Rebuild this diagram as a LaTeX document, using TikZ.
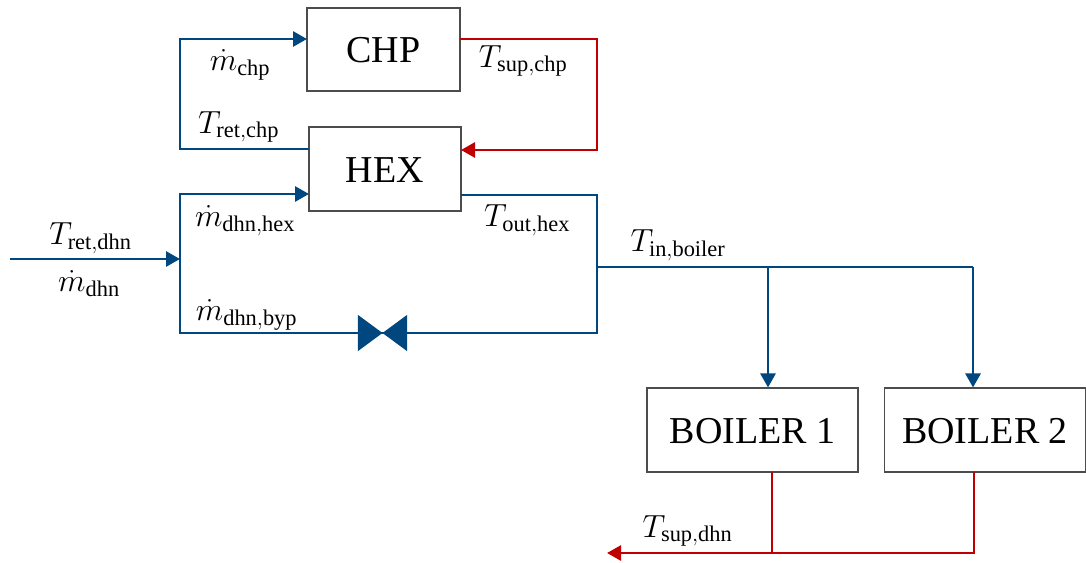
\documentclass[tikz,border=0pt]{standalone}
\usepackage{fix-cm}
\usepackage{fontspec}
\setmainfont{Liberation Serif}
\usetikzlibrary{arrows.meta}
\definecolor{pipeblue}{RGB}{0,70,127}
\definecolor{pipered}{RGB}{192,0,0}
\tikzset{
  unitbox/.style={draw=black!70, line width=1.1pt, fill=white, inner sep=0pt, text height=26.5pt, text depth=0pt, font=\fontsize{38}{40}\selectfont},
  coldline/.style={draw=pipeblue, line width=2.8pt, line join=miter},
  hotline/.style={draw=pipered, line width=2.8pt, line join=miter},
  tip/.style={-{Triangle[length=14pt,width=15pt]}},
  quantity/.style={inner sep=0pt, font=\fontsize{32}{36}\selectfont},
}
\begin{document}
\begin{tikzpicture}[x=1pt,y=-1pt]
  \useasboundingbox (0,0) rectangle (1086,562);
  % units
  \node[unitbox, minimum width=153pt, minimum height=83pt] (chp) at (383.5,49.5) {CHP};
  \node[unitbox, minimum width=152pt, minimum height=84pt] (hex) at (385,169) {HEX};
  \node[unitbox, minimum width=211pt, minimum height=84pt] (boilerA) at (752.5,430) {BOILER 1};
  \node[unitbox, minimum width=201pt, minimum height=84pt] (boilerB) at (985,430) {BOILER 2};
  % bypass valve, two triangles meeting at the middle
  \node[inner sep=0pt, minimum width=49pt, minimum height=36pt] (valve) at (382.5,333) {};
  \fill[pipeblue] (valve.north west) -- (valve.south east) -- (valve.north east) -- (valve.south west) -- cycle;
  % junctions
  \coordinate (inlet) at (10,259);
  \coordinate (split) at (180,259);
  \coordinate (chpin) at (307,39);
  \coordinate (chpout) at (460,39);
  \coordinate (hexhot) at (461,150);
  \coordinate (hexret) at (309,149);
  \coordinate (hexin) at (309,194);
  \coordinate (hexout) at (461,195);
  \coordinate (mixer) at (597,267);
  \coordinate (teeA) at (768,267);
  \coordinate (teeB) at (973,267);
  \coordinate (outlet) at (607,553);
  \coordinate (botA) at (772,472);
  \coordinate (botB) at (974,472);
  % district heating side
  \draw[coldline, tip] (inlet) -- (split);
  \draw[coldline, tip] (hexret) -- (180,149) -- (180,39) -- (chpin);
  \draw[coldline, tip] (split) -- (180,194) -- (hexin);
  \draw[coldline] (split) -- (180,333) -- (valve.center);
  \draw[coldline] (hexout) -- (597,195) -- (597,333) -- (valve.center);
  \draw[coldline] (mixer) -- (teeB);
  \draw[coldline, tip] (teeA) -- (teeA |- boilerA.north);
  \draw[coldline, tip] (teeB) -- (teeB |- boilerB.north);
  % hot side
  \draw[hotline, tip] (chpout) -- (597,39) -- (597,150) -- (hexhot);
  \draw[hotline] (botA) -- (botA |- outlet);
  \draw[hotline, tip] (botB) -- (botB |- outlet) -- (outlet);
  % labels
  \node[quantity] (mchp) at (240,65) {$\dot m_{\mathrm{chp}}$};
  \node[quantity] (tsupchp) at (523,61) {$T_{\mathrm{sup,chp}}$};
  \node[quantity] (tretchp) at (238.5,127) {$T_{\mathrm{ret,chp}}$};
  \node[quantity] (tretdhn) at (90.5,238) {$T_{\mathrm{ret,dhn}}$};
  \node[quantity] (mdhn) at (89,284) {$\dot m_{\mathrm{dhn}}$};
  \node[quantity] (mhex) at (245,221) {$\dot m_{\mathrm{dhn,hex}}$};
  \node[quantity] (touthex) at (527,220) {$T_{\mathrm{out,hex}}$};
  \node[quantity] (mbyp) at (246.5,315) {$\dot m_{\mathrm{dhn,byp}}$};
  \node[quantity] (tinboiler) at (678,245) {$T_{\mathrm{in,boiler}}$};
  \node[quantity] (tsupdhn) at (687.5,531) {$T_{\mathrm{sup,dhn}}$};
\end{tikzpicture}
\end{document}
